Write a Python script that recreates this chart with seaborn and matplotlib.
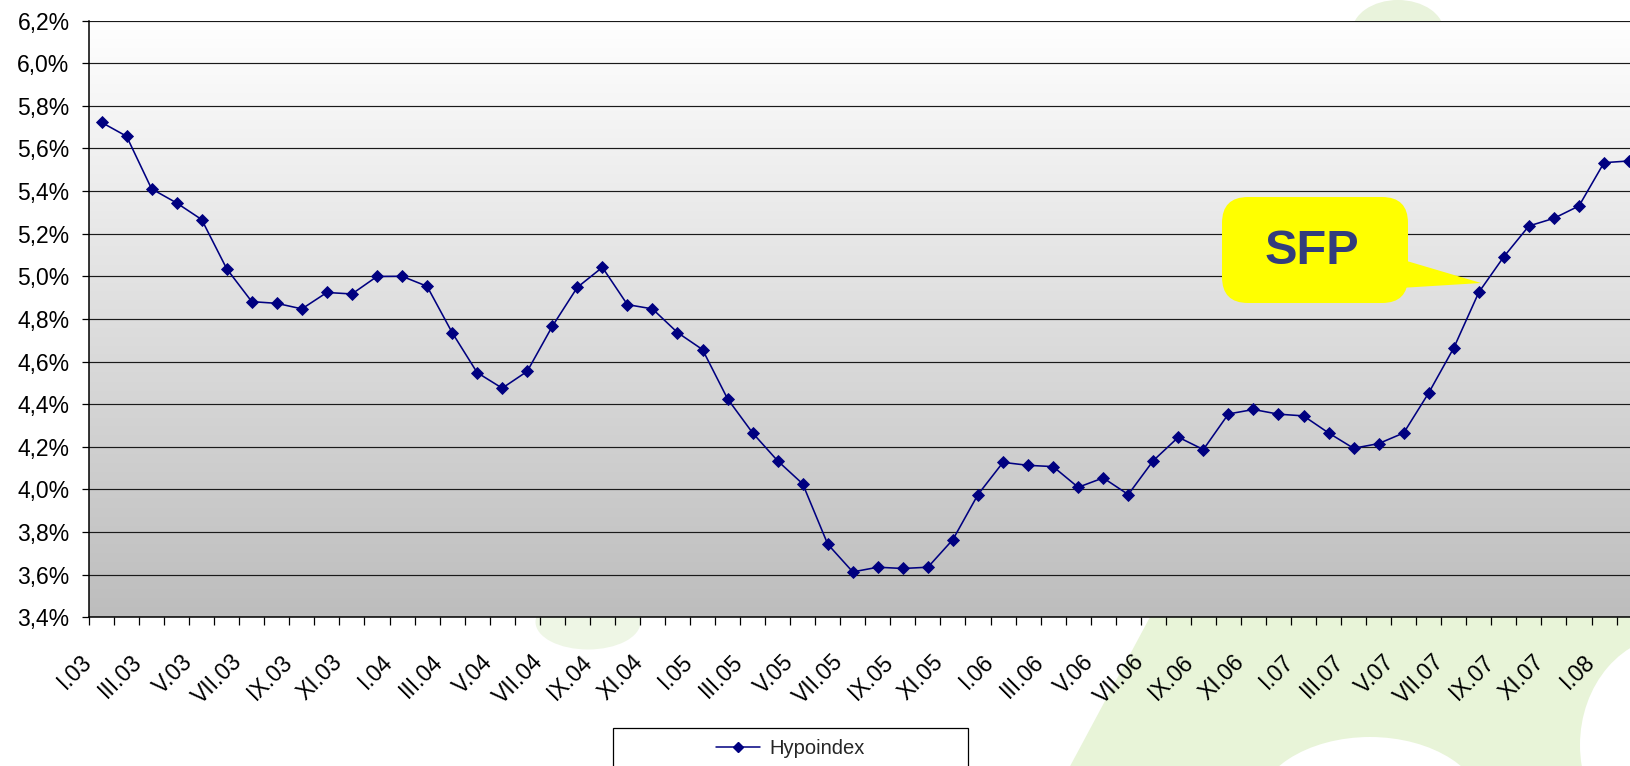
import numpy as np
import pandas as pd
import matplotlib
matplotlib.use("Agg")
import matplotlib.pyplot as plt
import matplotlib.transforms as mtransforms
import seaborn as sns
from matplotlib.patches import FancyBboxPatch, Polygon, Ellipse, Rectangle
from matplotlib.lines import Line2D
from matplotlib.colors import LinearSegmentedColormap
from matplotlib.ticker import FixedLocator, FuncFormatter

# ---------------- data ----------------
series_name = "Hypoindex"
rate = [5.722, 5.657, 5.410, 5.344, 5.266, 5.035, 4.881, 4.873, 4.847, 4.924,
        4.917, 4.999, 5.000, 4.953, 4.736, 4.548, 4.475, 4.554, 4.765, 4.948,
        5.042, 4.867, 4.847, 4.736, 4.656, 4.425, 4.265, 4.134, 4.026, 3.743,
        3.613, 3.635, 3.629, 3.635, 3.765, 3.976, 4.127, 4.113, 4.107, 4.010,
        4.054, 3.976, 4.135, 4.245, 4.187, 4.354, 4.375, 4.353, 4.345, 4.265,
        4.193, 4.215, 4.265, 4.453, 4.664, 4.925, 5.092, 5.236, 5.272, 5.330,
        5.533, 5.541]
tick_labels = ["I.03", "III.03", "V.03", "VII.03", "IX.03", "XI.03",
               "I.04", "III.04", "V.04", "VII.04", "IX.04", "XI.04",
               "I.05", "III.05", "V.05", "VII.05", "IX.05", "XI.05",
               "I.06", "III.06", "V.06", "VII.06", "IX.06", "XI.06",
               "I.07", "III.07", "V.07", "VII.07", "IX.07", "XI.07",
               "I.08"]
y_ticks = [3.4, 3.6, 3.8, 4.0, 4.2, 4.4, 4.6, 4.8, 5.0, 5.2, 5.4, 5.6, 5.8, 6.0, 6.2]
callout_text = "SFP"

df = pd.DataFrame({"pos": np.arange(len(rate)), "rate": rate})

# ---------------- figure ----------------
sns.set_style("white")
plt.rcParams["font.family"] = ["Liberation Sans", "DejaVu Sans"]

W, H = 1630, 766
fig = plt.figure(figsize=(W / 100, H / 100), dpi=100)
fig.patch.set_facecolor("white")
px = fig.dpi_scale_trans  # inches


def P(x, y):
    """pixel (top-origin) -> inches"""
    return (x / 100.0, (H - y) / 100.0)


# faint green watermark behind chart
wm = "#e8f4d8"
fig.add_artist(Polygon([P(1150, 617), P(1640, 617), P(1640, 770), P(1068, 770)],
                       closed=True, transform=px, facecolor=wm, edgecolor="none", zorder=-5))
fig.add_artist(Ellipse(P(1370, 812), 2.3, 1.5, transform=px, facecolor="white",
                       edgecolor="none", zorder=-4))
fig.add_artist(Ellipse(P(1675, 745), 1.9, 2.2, transform=px, facecolor="white",
                       edgecolor="none", zorder=-4))
fig.add_artist(Ellipse(P(588, 622), 1.05, 0.55, transform=px, facecolor="#eef6e5",
                       edgecolor="none", zorder=-5))
fig.add_artist(Ellipse(P(1398, 32), 0.92, 0.64, transform=px, facecolor="#e9f3dc",
                       edgecolor="none", zorder=-5))

left_px, right_px, top_px, bot_px = 89.0, 1641.6, 20.5, 617.3
ax = fig.add_axes([left_px / W, 1 - bot_px / H, (right_px - left_px) / W, (bot_px - top_px) / H])
ax.patch.set_alpha(0)

# gradient background of plot area
cmap = LinearSegmentedColormap.from_list("bg", ["#ffffff", "#bdbdbd"])
ax.imshow(np.linspace(0, 1, 256).reshape(-1, 1), cmap=cmap, aspect="auto",
          extent=[-0.5, len(rate) - 0.5, y_ticks[0], y_ticks[-1]], origin="upper", zorder=0)

sns.lineplot(data=df, x="pos", y="rate", ax=ax, color="#000080", lw=1.15,
             marker="D", markersize=6.2, markeredgecolor="#000080",
             markeredgewidth=0.6, legend=False, zorder=3)

ax.set_xlim(-0.5, len(rate) - 0.5)
ax.set_ylim(y_ticks[0], y_ticks[-1])
ax.set_xlabel("")
ax.set_ylabel("")

# y axis
ax.set_yticks(y_ticks)
ax.yaxis.set_major_formatter(FuncFormatter(lambda v, p: f"{v:.1f}".replace(".", ",") + "%"))
ax.set_axisbelow(True)
ax.yaxis.grid(True, color="#1a1a1a", lw=0.85)
ax.tick_params(axis="y", which="major", direction="out", length=5, width=0.9,
               color="black", pad=9, labelsize=16.5, labelcolor="black", left=True)

# x axis: labels at every 2nd category, tick marks between categories
ax.set_xticks(df["pos"].values[::2])
ax.set_xticklabels(tick_labels)
ax.xaxis.set_minor_locator(FixedLocator(np.arange(-0.5, len(rate), 1.0)))
ax.tick_params(axis="x", which="major", length=0, pad=0, labelsize=16.5, labelcolor="black")
ax.tick_params(axis="x", which="minor", direction="out", length=5.5, width=0.9,
               color="black", bottom=True)
shift = mtransforms.ScaledTranslation(-0.21, -0.33, fig.dpi_scale_trans)
for lab in ax.get_xticklabels():
    lab.set_rotation(45)
    lab.set_ha("right")
    lab.set_va("top")
    lab.set_rotation_mode("anchor")
    lab.set_transform(lab.get_transform() + shift)

for s in ["top", "right"]:
    ax.spines[s].set_visible(False)
for s in ["left", "bottom"]:
    ax.spines[s].set_color("black")
    ax.spines[s].set_linewidth(1.1)

# SFP callout
fig.add_artist(Polygon([P(1400, 259), P(1481, 283), P(1400, 288)], closed=True,
                       transform=px, facecolor="#ffff00", edgecolor="none", zorder=5))
x0, y0 = P(1222, 303)
fig.add_artist(FancyBboxPatch((x0, y0), 1.86, 1.06,
                              boxstyle="round,pad=0,rounding_size=0.26",
                              transform=px, facecolor="#ffff00", edgecolor="none", zorder=5))
tx, ty = P(1312, 251)
fig.text(tx, ty, callout_text, transform=px, fontsize=35, fontweight="bold",
         color="#333d7c", ha="center", va="center", zorder=6)

# legend box (cut at bottom)
lx, ly = P(613, 790)
fig.add_artist(Rectangle((lx, ly), 3.55, (790 - 728) / 100.0, transform=px,
                         facecolor="white", edgecolor="black", lw=0.9, zorder=4))
handle = Line2D([], [], color="#000080", lw=1.1, marker="D", markersize=5.4,
                markeredgecolor="#000080")
fig.legend(handles=[handle], labels=[series_name], loc="center",
           bbox_to_anchor=((613 + 968) / 2 / W, 1 - 749 / H), frameon=False,
           fontsize=14.5, handlelength=2.2, handletextpad=0.45).set_zorder(6)

fig.savefig("out.png", dpi=100, facecolor="white")
